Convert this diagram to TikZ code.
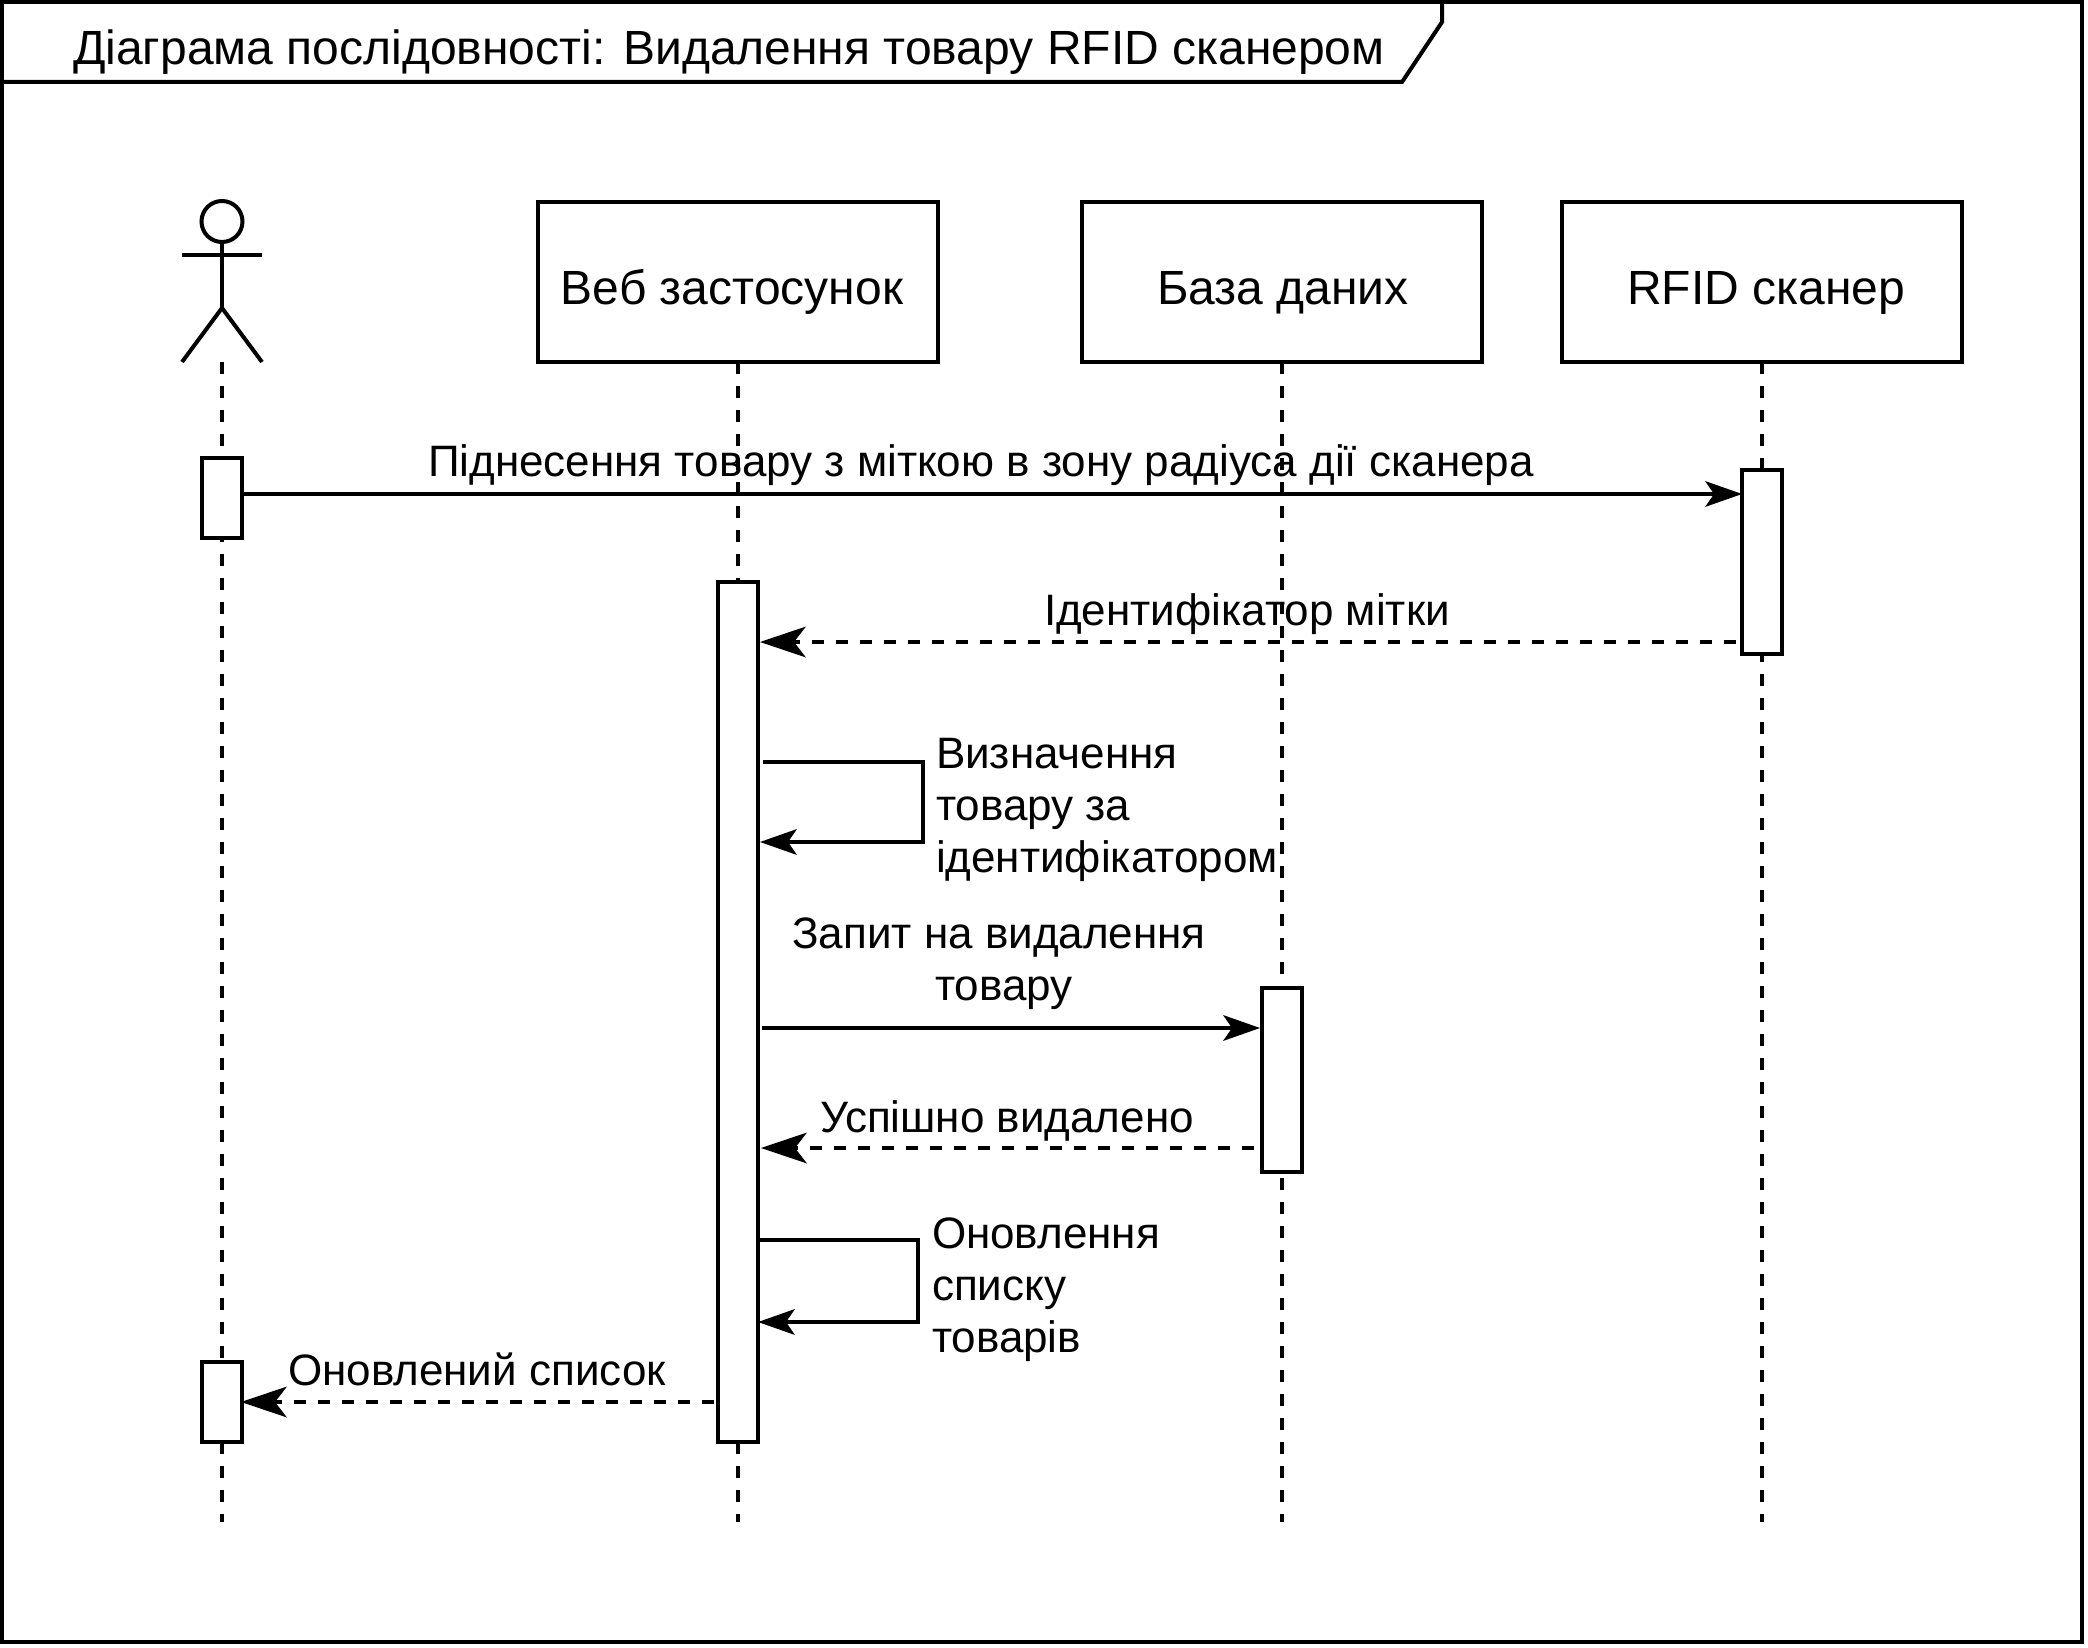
\documentclass[tikz,border=0pt]{standalone}
\usepackage{fontspec}
\setmainfont{Liberation Sans}
\usetikzlibrary{arrows.meta}
\tikzset{
  x=1pt,y=-1pt,
  every node/.style={inner sep=0pt,outer sep=0pt},
  ink/.style={line width=4pt,draw=black,line join=miter},
  life/.style={ink,dash pattern=on 12pt off 12pt},
  objbox/.style={ink,fill=white,rectangle,minimum width=400pt,minimum height=160pt},
  bar/.style={ink,fill=white,rectangle,minimum width=40pt},
  lbl/.style={font=\fontsize{44}{52}\selectfont,text=black},
  headlbl/.style={font=\fontsize{48}{52}\selectfont,text=black},
  msg/.style={ink,-{Stealth[length=37pt,width=26pt,inset=9pt,line width=0pt]}},
  ret/.style={ink,dash pattern=on 12pt off 12pt,-{Stealth[length=46pt,width=31pt,inset=12pt,line width=0pt]}},
}
\begin{document}
\begin{tikzpicture}
\useasboundingbox (0,0) rectangle (2088,1648);
% frame
\draw[ink] (2,2) rectangle (2082,1642);
\draw[ink] (2,82) -- (1402,82) -- (1442,22) -- (1442,2);
\node[headlbl,anchor=base west] (title) at (73,65) {Діаграма послідовності: Видалення товару RFID сканером};
% heads
\node[objbox] (web) at (738,282) {};
\node[objbox] (db) at (1282,282) {};
\node[objbox] (rfid) at (1762,282) {};
\node[headlbl,anchor=base] (webt) at (732,304) {Веб застосунок};
\node[headlbl,anchor=base] (dbt) at (1283,304) {База даних};
\node[headlbl,anchor=base] (rfidt) at (1766,304) {RFID сканер};
% actor
\node[circle,ink,minimum size=41pt] (head) at (222,221.5) {};
\coordinate (hip) at (222,308);
\coordinate (armL) at (182,255);
\coordinate (armR) at (262,255);
\coordinate (legL) at (182,362);
\coordinate (legR) at (262,362);
\draw[ink] (head.south) -- (hip);
\draw[ink] (armL) -- (armR);
\draw[ink] (legL) -- (hip) -- (legR);
% lifeline ends
\coordinate (endA) at (222,1522);
\coordinate (endW) at (738,1522);
\coordinate (endD) at (1282,1522);
\coordinate (endR) at (1762,1522);
\draw[life] (222,362) -- (endA);
\draw[life] (web.south) -- (endW);
\draw[life] (db.south) -- (endD);
\draw[life] (rfid.south) -- (endR);
% bars
\node[bar,minimum height=80pt] (a1) at (222,498) {};
\node[bar,minimum height=80pt] (a2) at (222,1402) {};
\node[bar,minimum height=860pt] (w1) at (738,1012) {};
\node[bar,minimum height=184pt] (d1) at (1282,1080) {};
\node[bar,minimum height=184pt] (r1) at (1762,562) {};
% messages
\draw[msg] (a1.east |- 0,494) -- (r1.west |- 0,494);
\draw[ret] ([xshift=-6pt]r1.west |- 0,642) -- ([xshift=2pt]w1.east |- 0,642);
\draw[msg] ([xshift=5pt]w1.east |- 0,762) -- (923,762) -- (923,842) -- ([xshift=2pt]w1.east |- 0,842);
\draw[msg] ([xshift=4pt]w1.east |- 0,1028) -- ([xshift=-2pt]d1.west |- 0,1028);
\draw[ret] ([xshift=-8pt]d1.west |- 0,1148) -- ([xshift=3pt]w1.east |- 0,1148);
\draw[msg] (w1.east |- 0,1240) -- (918,1240) -- (918,1322) -- (w1.east |- 0,1322);
\draw[ret] ([xshift=-4pt]w1.west |- 0,1402) -- ([xshift=-1pt]a2.east |- 0,1402);
% labels
\node[lbl,anchor=base] (t1) at (981,476) {Піднесення товару з міткою в зону радіуса дії сканера};
\node[lbl,anchor=base] (t2) at (1247,625) {Ідентифікатор мітки};
\node[lbl,anchor=base west,align=left] (t3) at (936,872) {Визначення\\товару за\\ідентифікатором};
\node[lbl,anchor=base,align=center] (t4) at (999,1000) {Запит на видалення\\\hspace*{10pt}товару};
\node[lbl,anchor=base] (t5) at (1007,1132) {Успішно видалено};
\node[lbl,anchor=base west,align=left] (t6) at (932,1352) {Оновлення\\списку\\товарів};
\node[lbl,anchor=base] (t7) at (477,1385) {Оновлений список};
\end{tikzpicture}
\end{document}
